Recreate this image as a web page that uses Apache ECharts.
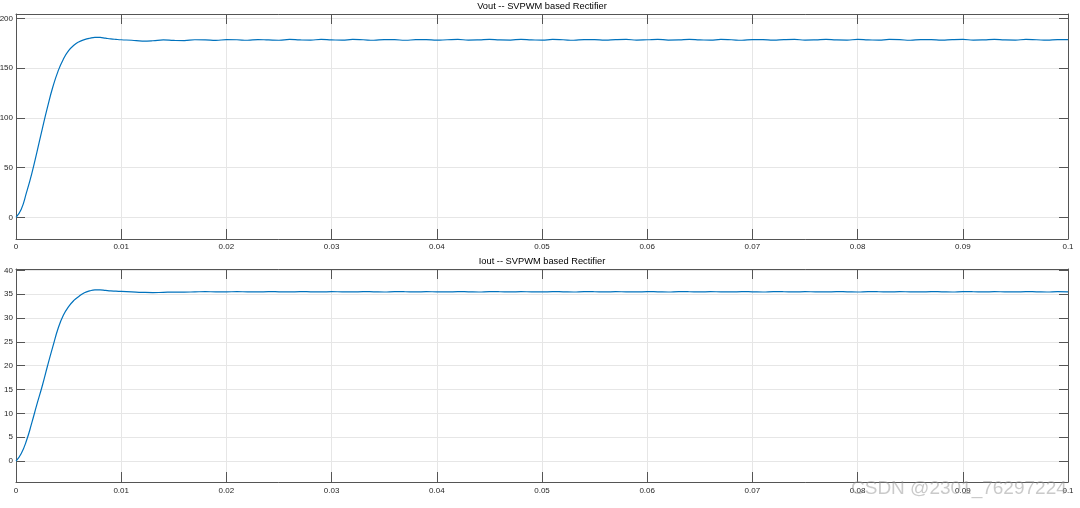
<!DOCTYPE html>
<html>
<head>
<meta charset="utf-8">
<script src="https://cdn.jsdelivr.net/npm/echarts@6/dist/echarts.min.js"></script>
<style>html,body{margin:0;padding:0;background:#fff}#c{width:1080px;height:508px}</style>
</head>
<body>
<div id="c"></div>
<script>
// time samples (s)
const times = [
  0, 0.0005, 0.001, 0.0015, 0.002, 0.0025, 0.003, 0.0035, 0.004, 0.0045,
  0.005, 0.0055, 0.006, 0.0065, 0.007, 0.0075, 0.008, 0.0085, 0.009, 0.0095,
  0.010, 0.011, 0.012, 0.013, 0.014, 0.015, 0.016, 0.017, 0.018, 0.019,
  0.020, 0.021, 0.022, 0.023, 0.024, 0.025, 0.026, 0.027, 0.028, 0.029,
  0.030, 0.031, 0.032, 0.033, 0.034, 0.035, 0.036, 0.037, 0.038, 0.039,
  0.040, 0.041, 0.042, 0.043, 0.044, 0.045, 0.046, 0.047, 0.048, 0.049,
  0.050, 0.051, 0.052, 0.053, 0.054, 0.055, 0.056, 0.057, 0.058, 0.059,
  0.060, 0.061, 0.062, 0.063, 0.064, 0.065, 0.066, 0.067, 0.068, 0.069,
  0.070, 0.071, 0.072, 0.073, 0.074, 0.075, 0.076, 0.077, 0.078, 0.079,
  0.080, 0.081, 0.082, 0.083, 0.084, 0.085, 0.086, 0.087, 0.088, 0.089,
  0.090, 0.091, 0.092, 0.093, 0.094, 0.095, 0.096, 0.097, 0.098, 0.099,
  0.100
];
// Vout (V)
const vout = [
  0, 8, 25, 44, 66, 89, 111, 131, 147, 159,
  167.5, 173, 176.5, 178.6, 180, 180.8, 180.8, 180.1, 179.4, 178.9,
  178.5, 178.0, 177.2, 177.5, 178.3, 177.8, 177.6, 178.5, 178.4, 177.9,
  178.6, 178.5, 178.0, 178.7, 178.3, 178.0, 178.8, 178.3, 178.1, 178.9,
  178.4, 178.1, 178.8, 178.5, 178.0, 178.7, 178.6, 178.0, 178.6, 178.7,
  178.1, 178.5, 178.8, 178.2, 178.4, 178.9, 178.3, 178.2, 178.9, 178.4,
  178.1, 178.8, 178.5, 178.0, 178.7, 178.6, 178.1, 178.6, 178.8, 178.2,
  178.5, 178.9, 178.2, 178.3, 178.8, 178.4, 178.1, 178.8, 178.5, 178.0,
  178.7, 178.6, 178.1, 178.6, 178.8, 178.2, 178.4, 178.9, 178.3, 178.2,
  178.8, 178.4, 178.1, 178.8, 178.6, 178.0, 178.7, 178.6, 178.1, 178.6,
  178.8, 178.2, 178.4, 178.9, 178.3, 178.2, 178.8, 178.5, 178.1, 178.7,
  178.6
];
// Iout (A)
const iout = [
  0, 1.6, 4.3, 8, 12, 15.8, 20, 24, 27.8, 30.6,
  32.4, 33.7, 34.6, 35.3, 35.7, 35.9, 35.9, 35.8, 35.7, 35.65,
  35.6, 35.5, 35.4, 35.35, 35.4, 35.45, 35.45, 35.5, 35.55, 35.5,
  35.5, 35.55, 35.5, 35.48, 35.55, 35.52, 35.48, 35.55, 35.52, 35.48,
  35.55, 35.5, 35.48, 35.56, 35.52, 35.47, 35.55, 35.53, 35.48, 35.55,
  35.5, 35.48, 35.56, 35.52, 35.47, 35.55, 35.53, 35.48, 35.55, 35.5,
  35.48, 35.56, 35.52, 35.47, 35.55, 35.53, 35.48, 35.55, 35.5, 35.48,
  35.56, 35.52, 35.47, 35.55, 35.53, 35.48, 35.55, 35.5, 35.48, 35.56,
  35.52, 35.47, 35.55, 35.53, 35.48, 35.55, 35.5, 35.48, 35.56, 35.52,
  35.47, 35.55, 35.53, 35.48, 35.55, 35.5, 35.48, 35.56, 35.52, 35.47,
  35.55, 35.53, 35.48, 35.55, 35.5, 35.48, 35.56, 35.52, 35.47, 35.55,
  35.52
];
const titles = ['Vout -- SVPWM based Rectifier', 'Iout -- SVPWM based Rectifier'];
const voutTicks = [0, 50, 100, 150, 200];
const ioutTicks = [0, 5, 10, 15, 20, 25, 30, 35, 40];
const voutRange = [-21.8, 204.4];
const ioutRange = [-4.4, 40.3];
const xRange = [0, 0.1];
const xInterval = 0.01;
const watermark = 'CSDN @2301_76297224';

const FONT = 'Liberation Sans, Arial, sans-serif';
const AX = '#555555';
const GRIDC = '#e6e6e6';
const FS = 8;

function xAxes(gridIndex, gap) {
  return [
    { type: 'value', gridIndex, position: 'bottom', min: xRange[0], max: xRange[1], interval: xInterval,
      axisLine: { show: true, onZero: false, lineStyle: { color: AX, width: 1 } },
      axisTick: { show: true, inside: true, length: 10, lineStyle: { color: AX } },
      axisLabel: { show: true, color: '#262626', fontSize: FS, fontFamily: FONT, margin: gap,
        formatter: v => String(+v.toFixed(2)) },
      splitLine: { show: true, lineStyle: { color: GRIDC, width: 1 } } },
    { type: 'value', gridIndex, position: 'top', min: xRange[0], max: xRange[1], interval: xInterval,
      axisLine: { show: true, onZero: false, lineStyle: { color: AX, width: 1 } },
      axisTick: { show: true, inside: true, length: 10, lineStyle: { color: AX } },
      axisLabel: { show: false }, splitLine: { show: false } }
  ];
}
function yAxes(gridIndex, range, ticks) {
  return [
    { type: 'value', gridIndex, position: 'left', min: range[0], max: range[1],
      axisLine: { show: true, onZero: false, lineStyle: { color: AX, width: 1 } },
      axisTick: { show: true, inside: true, length: 9, customValues: ticks, lineStyle: { color: AX } },
      axisLabel: { show: true, color: '#262626', fontSize: FS, fontFamily: FONT, margin: 3, customValues: ticks },
      splitLine: { show: true, lineStyle: { color: GRIDC, width: 1 } } },
    { type: 'value', gridIndex, position: 'right', min: range[0], max: range[1],
      axisLine: { show: true, onZero: false, lineStyle: { color: AX, width: 1 } },
      axisTick: { show: true, inside: true, length: 9, customValues: ticks, lineStyle: { color: AX } },
      axisLabel: { show: false }, splitLine: { show: false } }
  ];
}

const chart = echarts.init(document.getElementById('c'), null, { renderer: 'canvas' });
chart.setOption({
  animation: false,
  backgroundColor: '#fff',
  title: [
    { text: titles[0], left: 542, top: 2, textAlign: 'center', padding: 0,
      textStyle: { fontSize: 9.3, fontWeight: 'normal', color: '#000', fontFamily: FONT } },
    { text: titles[1], left: 542, top: 257, textAlign: 'center', padding: 0,
      textStyle: { fontSize: 9.3, fontWeight: 'normal', color: '#000', fontFamily: FONT } }
  ],
  grid: [
    { left: 16, right: 12, top: 14, height: 225, containLabel: false, outerBoundsMode: 'none' },
    { left: 16, right: 12, top: 269, height: 213, containLabel: false, outerBoundsMode: 'none' }
  ],
  xAxis: [...xAxes(0, 4), ...xAxes(1, 5)],
  yAxis: [...yAxes(0, voutRange, voutTicks), ...yAxes(1, ioutRange, ioutTicks)],
  series: [
    { type: 'line', xAxisIndex: 0, yAxisIndex: 0, showSymbol: false, smooth: 0.5,
      data: times.map((t, i) => [t, vout[i]]), lineStyle: { color: '#0072BD', width: 1.2 } },
    { type: 'line', xAxisIndex: 2, yAxisIndex: 2, showSymbol: false, smooth: 0.5,
      data: times.map((t, i) => [t, iout[i]]), lineStyle: { color: '#0072BD', width: 1.2 } }
  ],
  graphic: [
    { type: 'text', left: 851, top: 479, z: 100,
      style: { text: watermark, fontSize: 19, fontFamily: FONT, fill: 'rgba(150,150,150,0.5)' } }
  ]
});
</script>
</body>
</html>
